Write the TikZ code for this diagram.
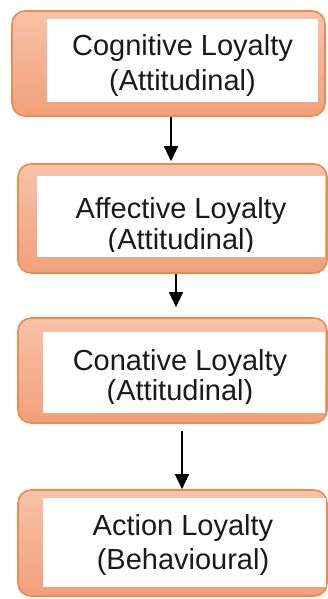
\documentclass[tikz,border=0pt]{standalone}
\usepackage{fontspec}
\setmainfont{Liberation Sans}
\usetikzlibrary{arrows.meta}
\definecolor{boxtop}{HTML}{F6C3A9}
\definecolor{boxbot}{HTML}{F2A07A}
\definecolor{boxline}{HTML}{EE8A4E}
\definecolor{ink}{HTML}{1A1A1A}
\begin{document}
\begin{tikzpicture}[x=1pt,y=-1pt,
  stage/.style={draw=boxline, line width=1.6pt, rounded corners=13pt,
    top color=boxtop, bottom color=boxbot, inner sep=0pt},
  card/.style={fill=white, inner sep=0pt},
  lbl/.style={anchor=base, inner sep=0pt, text=ink,
    font=\fontsize{29}{34}\selectfont},
  flow/.style={-{Triangle[width=14pt,length=15pt]}, line width=1.4pt, black}]
\useasboundingbox (0,0) rectangle (328,599);

% outer stage boxes
\node[stage, minimum width=313pt, minimum height=105pt] (b1) at (168.5,63.5) {};
\node[stage, minimum width=309pt, minimum height=109pt] (b2) at (172.5,218.5) {};
\node[stage, minimum width=309pt, minimum height=105pt] (b3) at (172.5,370.5) {};
\node[stage, minimum width=309pt, minimum height=106pt] (b4) at (172.5,543) {};

% white text panels
\node[card, minimum width=271pt, minimum height=83pt] (w1) at (182.5,60.5) {};
\node[card, minimum width=288pt, minimum height=81pt] (w2) at (181,216.5) {};
\node[card, minimum width=282pt, minimum height=81pt] (w3) at (184,372.5) {};
\node[card, minimum width=283pt, minimum height=89pt] (w4) at (184.5,542.5) {};

% labels
\node[lbl] (t1a) at (182.5,56) {Cognitive Loyalty};
\node[lbl] (t1b) at (182.5,90.7) {(Attitudinal)};
\begin{scope}
  \clip (37,176) rectangle (325,251);
  \node[lbl] (t2a) at (181,218) {Affective Loyalty};
  \node[lbl] (t2b) at (181,249) {(Attitudinal)};
\end{scope}
\begin{scope}
  \clip (43,332) rectangle (325,403);
  \node[lbl] (t3a) at (180,370) {Conative Loyalty};
  \node[lbl] (t3b) at (180,400) {(Attitudinal)};
\end{scope}
\node[lbl] (t4a) at (183,535) {Action Loyalty};
\node[lbl] (t4b) at (183,569.5) {(Behavioural)};

% connectors
\draw[flow, shorten >=2pt] (171,0 |- b1.south) -- (171,0 |- b2.north);
\draw[flow, shorten >=10pt] (176,0 |- b2.south) -- (176,0 |- b3.north);
\draw[flow, shorten <=7pt] (182,0 |- b3.south) -- (182,0 |- b4.north);
\end{tikzpicture}
\end{document}
